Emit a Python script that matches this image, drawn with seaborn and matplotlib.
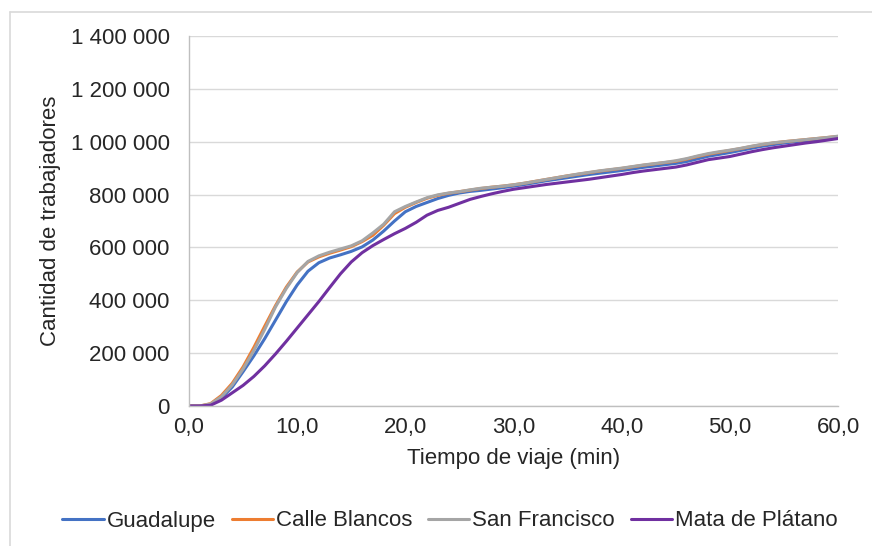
import numpy as np
import pandas as pd
import matplotlib
matplotlib.use("Agg")
import matplotlib.pyplot as plt
from matplotlib.lines import Line2D
import seaborn as sns

minutes = list(range(0, 61))

guadalupe = [0, 0, 5, 30, 72, 130, 190, 255, 325, 395, 458, 510, 542, 560, 572, 585, 602, 628, 662, 700,
             735, 755, 770, 785, 797, 806, 812, 816, 821, 826, 832, 838, 845, 852, 858, 864, 870, 876, 881, 886,
             891, 897, 903, 908, 913, 918, 925, 935, 945, 952, 959, 967, 975, 983, 989, 995, 1000, 1004, 1008, 1013, 1017]
calle_blancos = [0, 0, 9, 40, 86, 148, 222, 302, 380, 450, 507, 545, 564, 578, 590, 603, 622, 646, 684, 728,
                 752, 770, 786, 797, 805, 811, 817, 823, 828, 832, 837, 843, 850, 857, 864, 871, 877, 883, 889, 894,
                 899, 905, 911, 916, 921, 926, 934, 944, 953, 960, 967, 974, 982, 989, 995, 1000, 1004, 1008, 1012, 1016, 1020]
san_francisco = [0, 0, 8, 35, 80, 140, 210, 290, 375, 445, 505, 547, 568, 582, 594, 606, 625, 655, 688, 735,
                 755, 772, 788, 799, 806, 811, 818, 824, 828, 832, 837, 843, 850, 857, 864, 871, 878, 884, 890, 895,
                 900, 906, 912, 917, 922, 928, 936, 946, 955, 962, 968, 975, 983, 990, 996, 1000, 1004, 1008, 1012, 1016, 1021]
mata_de_platano = [0, 0, 3, 22, 50, 78, 112, 152, 197, 245, 295, 345, 395, 448, 500, 545, 580, 607, 630, 652,
                   672, 695, 722, 740, 752, 767, 782, 793, 803, 812, 820, 826, 832, 838, 843, 848, 853, 858, 864, 870,
                   876, 883, 889, 894, 899, 904, 912, 922, 932, 938, 944, 953, 962, 970, 977, 983, 989, 995, 1000, 1006, 1012]

series_names = ["Guadalupe", "Calle Blancos", "San Francisco", "Mata de Plátano"]
colors = ["#4472C4", "#ED7D31", "#A5A5A5", "#7030A0"]

y_ticks = [0, 200000, 400000, 600000, 800000, 1000000, 1200000, 1400000]
y_tick_labels = ["0", "200 000", "400 000", "600 000", "800 000", "1 000 000", "1 200 000", "1 400 000"]
x_ticks = [0, 10, 20, 30, 40, 50, 60]
x_tick_labels = ["0,0", "10,0", "20,0", "30,0", "40,0", "50,0", "60,0"]

frames = []
for name, vals in zip(series_names, [guadalupe, calle_blancos, san_francisco, mata_de_platano]):
    frames.append(pd.DataFrame({"t": minutes, "v": np.array(vals) * 1000, "serie": name}))
df = pd.concat(frames, ignore_index=True)

sns.set_theme(style="white")
plt.rcParams["font.family"] = ["Liberation Sans", "DejaVu Sans"]

FS = 16
TXT = "#262626"

fig = plt.figure(figsize=(8.72, 5.46), dpi=100)
ax = fig.add_axes([189 / 872, 1 - 406 / 546, (838 - 189) / 872, (406 - 36) / 546])

sns.lineplot(data=df, x="t", y="v", hue="serie", hue_order=series_names,
             palette=colors, linewidth=2.2, ax=ax, legend=False)

ax.set_xlim(0, 60)
ax.set_ylim(0, 1400000)
ax.set_yticks(y_ticks)
ax.set_yticklabels(y_tick_labels, fontsize=FS, color=TXT)
ax.set_xticks(x_ticks)
ax.set_xticklabels(x_tick_labels, fontsize=FS, color=TXT)
ax.yaxis.grid(True, color="#d9d9d9", linewidth=1)
ax.xaxis.grid(False)
ax.tick_params(axis="y", length=0, pad=14)
ax.tick_params(axis="x", length=0, pad=8)
for s in ["top", "right"]:
    ax.spines[s].set_visible(False)
for s in ["left", "bottom"]:
    ax.spines[s].set_color("#bfbfbf")
    ax.spines[s].set_linewidth(1)

ax.set_xlabel("Tiempo de viaje (min)", fontsize=FS, color=TXT, labelpad=7)
ax.set_ylabel("Cantidad de trabajadores", fontsize=FS, color=TXT, labelpad=7)

handles = [Line2D([0], [0], color=c, lw=2.2) for c in colors]
fig.legend(handles, series_names, loc="center", bbox_to_anchor=(450 / 872, 1 - 521 / 546),
           ncol=4, frameon=False, fontsize=FS, handlelength=1.85, handletextpad=0.15,
           columnspacing=0.7, labelcolor=TXT)

fig.add_artist(Line2D([10 / 872, 1.0], [1 - 12 / 546, 1 - 12 / 546], color="#d9d9d9", lw=1.2,
                      transform=fig.transFigure))
fig.add_artist(Line2D([10 / 872, 10 / 872], [0, 1 - 12 / 546], color="#d9d9d9", lw=1.2,
                      transform=fig.transFigure))

fig.savefig("out.png", dpi=100)
